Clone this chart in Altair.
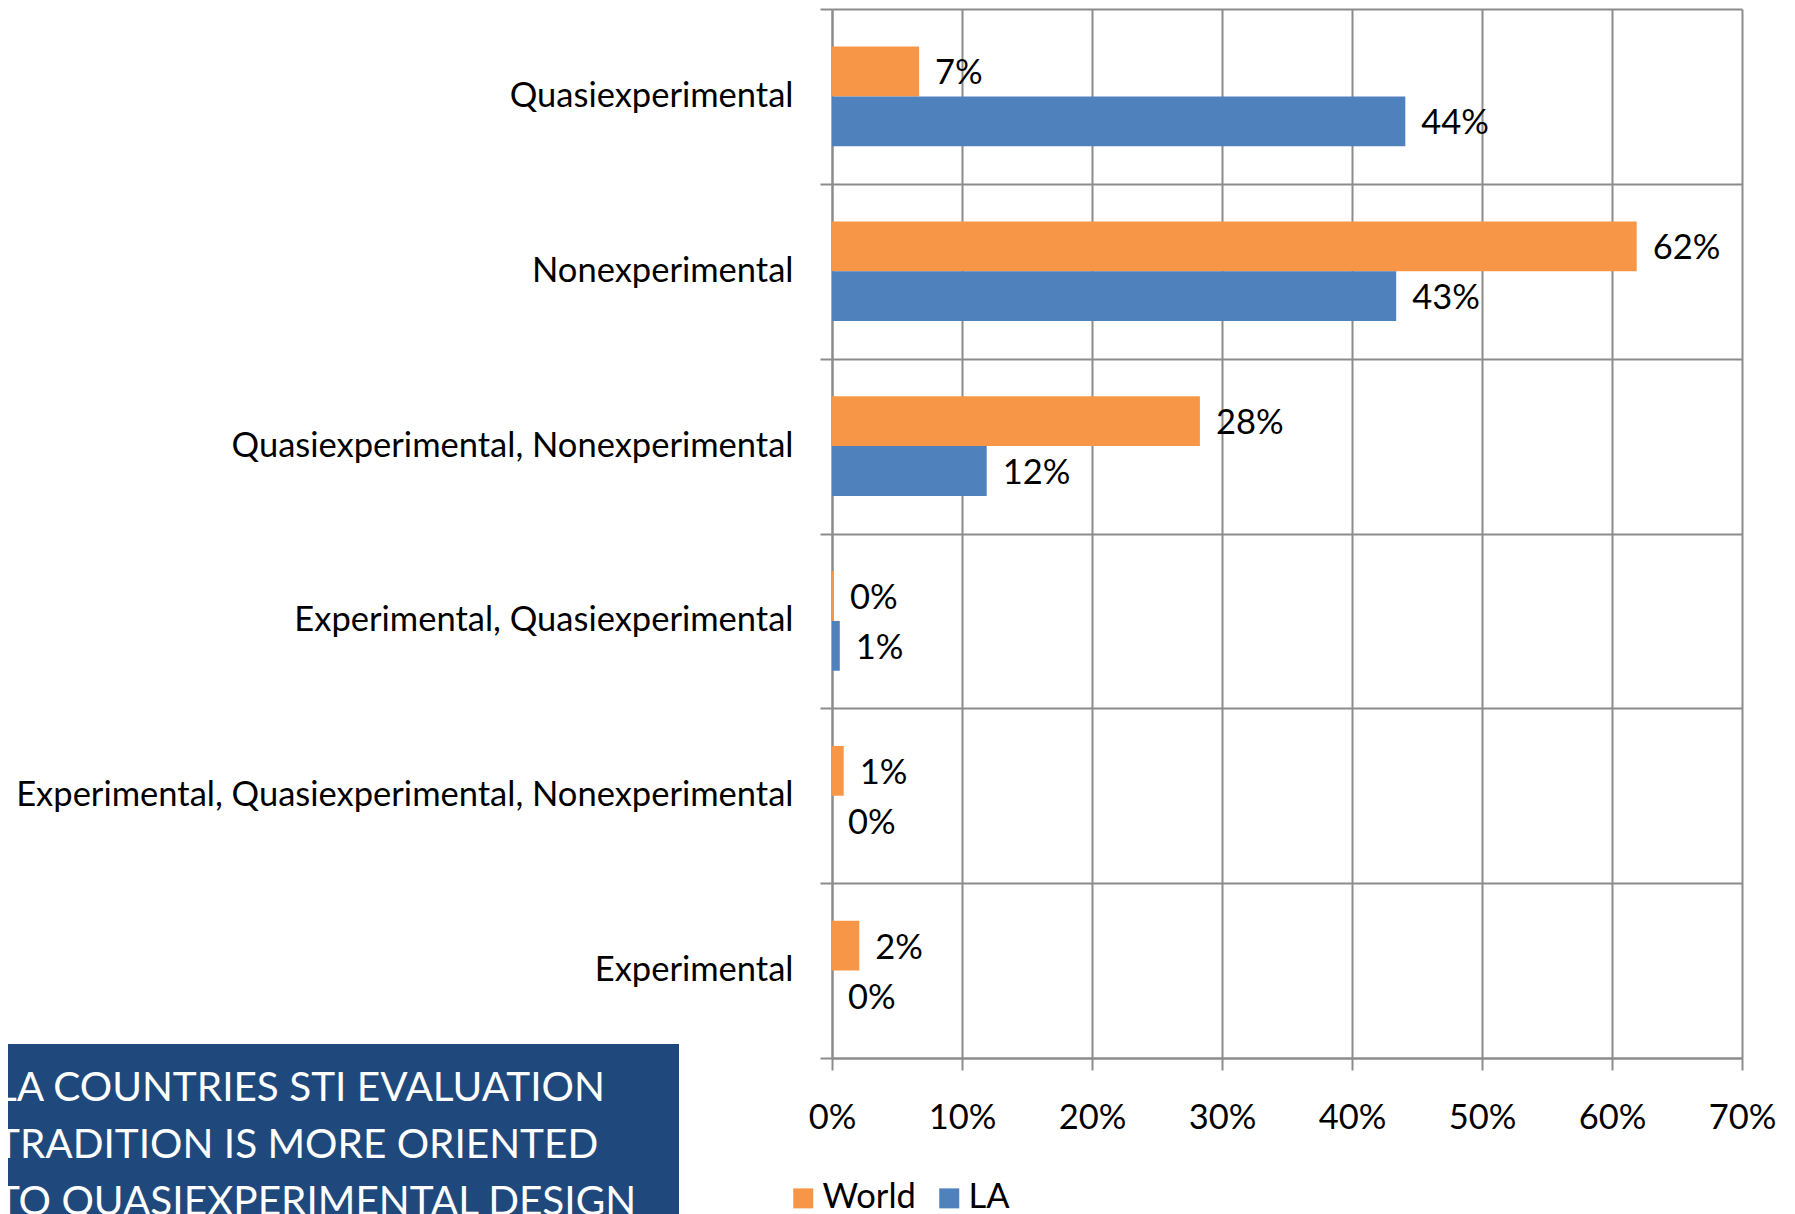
import altair as alt
import pandas as pd

categories = [
    "Quasiexperimental",
    "Nonexperimental",
    "Quasiexperimental, Nonexperimental",
    "Experimental, Quasiexperimental",
    "Experimental, Quasiexperimental, Nonexperimental",
    "Experimental",
]
series = ["World", "LA"]
world_values = [0.067, 0.619, 0.283, 0.0015, 0.009, 0.021]
la_values = [0.441, 0.434, 0.119, 0.006, 0.0, 0.0]
world_labels = ["7%", "62%", "28%", "0%", "1%", "2%"]
la_labels = ["44%", "43%", "12%", "1%", "0%", "0%"]
x_ticks = [0.0, 0.1, 0.2, 0.3, 0.4, 0.5, 0.6, 0.7]
series_colors = ["#F79646", "#4F81BD"]
note_lines = [
    "LA COUNTRIES STI EVALUATION",
    "TRADITION IS MORE ORIENTED",
    "TO QUASIEXPERIMENTAL DESIGN",
]

rows = []
for i, c in enumerate(categories):
    rows.append({"category": c, "series": "World", "value": world_values[i], "label": world_labels[i]})
    rows.append({"category": c, "series": "LA", "value": la_values[i], "label": la_labels[i]})
df = pd.DataFrame(rows)

FONT = "Lato"
FS = 34.5
GRID = "#8c8c8c"

y_enc = alt.Y(
    "category:N",
    sort=categories,
    scale=alt.Scale(paddingInner=0, paddingOuter=0),
    axis=alt.Axis(
        title=None, tickBand="extent", grid=True, gridColor=GRID, gridWidth=2,
        tickSize=12, tickColor=GRID, tickWidth=2, domainColor=GRID, domainWidth=2,
        labelFont=FONT, labelFontSize=FS, labelColor="black", labelPadding=27,
        labelLimit=1200,
    ),
)
yoff = alt.YOffset("series:N", sort=series, scale=alt.Scale(paddingInner=0, paddingOuter=0.754))
x_enc = alt.X(
    "value:Q",
    scale=alt.Scale(domain=[0, 0.7], nice=False, zero=True),
    axis=alt.Axis(
        title=None, values=x_ticks, format=".0%", grid=True, gridColor=GRID, gridWidth=2,
        tickSize=12, tickColor=GRID, tickWidth=2, domainColor=GRID, domainWidth=2,
        labelFont=FONT, labelFontSize=FS, labelColor="black", labelFlush=False,
        labelBaseline="middle", labelPadding=48,
    ),
)
color = alt.Color(
    "series:N",
    sort=series,
    scale=alt.Scale(domain=series, range=series_colors),
    legend=alt.Legend(
        title=None, orient="none", legendX=-46, legendY=1172, direction="horizontal",
        symbolType="square", symbolSize=400, symbolStrokeWidth=0, symbolOpacity=1,
        labelFont=FONT, labelFontSize=FS, labelColor="black", labelOffset=2,
        columnPadding=16, padding=0,
    ),
)

bars = alt.Chart(df).mark_bar(opacity=1).encode(y=y_enc, yOffset=yoff, x=x_enc, color=color)
labels = alt.Chart(df).mark_text(
    align="left", baseline="middle", dx=16, dy=3, font=FONT, fontSize=FS, color="black"
).encode(y=y_enc, yOffset=yoff, x=x_enc, text="label:N")

one = pd.DataFrame({"n": [0]})
note_rect = alt.Chart(one).mark_rect(color="#1F497D").encode(
    x=alt.value(-845), x2=alt.value(-153), y=alt.value(1035), y2=alt.value(1300)
)
note_text = alt.Chart(one).mark_text(
    text=note_lines, align="left", baseline="top", font=FONT, fontSize=40.5,
    color="white", lineHeight=57,
).encode(x=alt.value(-836), y=alt.value(1060))

chart = alt.layer(note_rect, note_text, bars, labels).properties(
    width=910,
    height=1049,
    padding={"left": 824, "top": 1, "right": 45, "bottom": 170},
    autosize=alt.AutoSizeParams(type="none"),
    background="white",
).configure_view(stroke=None)

chart.save("out.html", embed_options={"renderer": "svg", "actions": False})
